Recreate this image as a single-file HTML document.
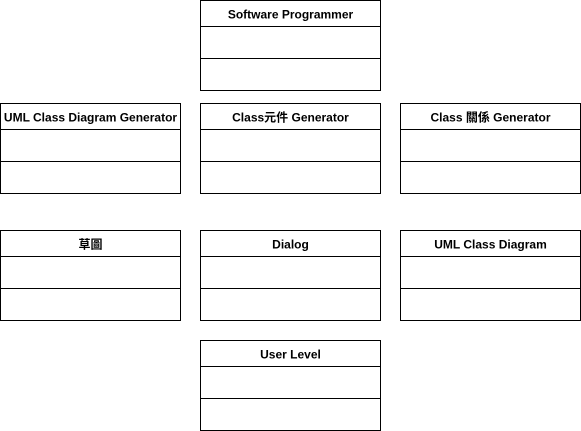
<!DOCTYPE html>
<html><head><style>
html,body{margin:0;padding:0;background:#fff;width:581px;height:431px;overflow:hidden}
text{font-family:"Liberation Sans","Noto Sans CJK TC",sans-serif;font-size:12px;font-weight:bold;fill:#000;text-anchor:middle}
rect,line{stroke:#000;stroke-width:1;fill:#fff}
</style></head><body>
<svg width="581" height="431" xmlns="http://www.w3.org/2000/svg">
<g transform="translate(200.5,0.5)"><rect width="180" height="90"/><line x1="0" y1="26" x2="180" y2="26"/><line x1="0" y1="58" x2="180" y2="58"/><text x="90" y="18">Software Programmer</text></g>
<g transform="translate(0.5,103.5)"><rect width="180" height="90"/><line x1="0" y1="26" x2="180" y2="26"/><line x1="0" y1="58" x2="180" y2="58"/><text x="90" y="18">UML Class Diagram Generator</text></g>
<g transform="translate(200.5,103.5)"><rect width="180" height="90"/><line x1="0" y1="26" x2="180" y2="26"/><line x1="0" y1="58" x2="180" y2="58"/><text x="90" y="18">Class元件 Generator</text></g>
<g transform="translate(400.5,103.5)"><rect width="180" height="90"/><line x1="0" y1="26" x2="180" y2="26"/><line x1="0" y1="58" x2="180" y2="58"/><text x="90" y="18">Class 關係 Generator</text></g>
<g transform="translate(0.5,230.5)"><rect width="180" height="90"/><line x1="0" y1="26" x2="180" y2="26"/><line x1="0" y1="58" x2="180" y2="58"/><text x="90" y="18">草圖</text></g>
<g transform="translate(200.5,230.5)"><rect width="180" height="90"/><line x1="0" y1="26" x2="180" y2="26"/><line x1="0" y1="58" x2="180" y2="58"/><text x="90" y="18">Dialog</text></g>
<g transform="translate(400.5,230.5)"><rect width="180" height="90"/><line x1="0" y1="26" x2="180" y2="26"/><line x1="0" y1="58" x2="180" y2="58"/><text x="90" y="18">UML Class Diagram</text></g>
<g transform="translate(200.5,340.5)"><rect width="180" height="90"/><line x1="0" y1="26" x2="180" y2="26"/><line x1="0" y1="58" x2="180" y2="58"/><text x="90" y="18">User Level</text></g>
</svg>
</body></html>
